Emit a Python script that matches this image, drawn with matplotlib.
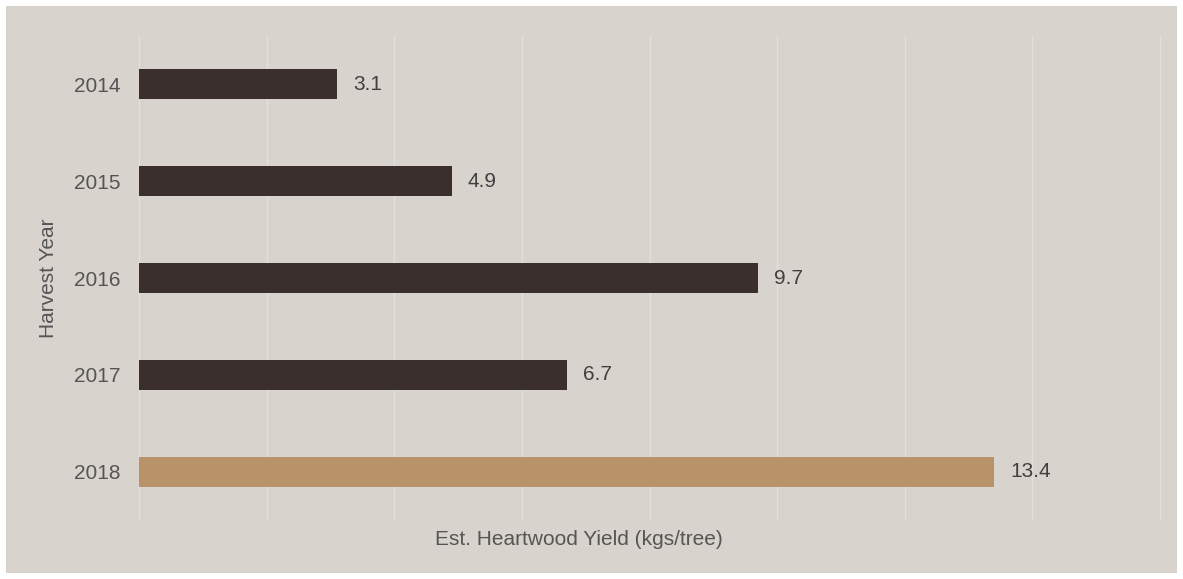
import matplotlib.pyplot as plt
from matplotlib.patches import Rectangle

years = ["2014", "2015", "2016", "2017", "2018"]
yields = [3.1, 4.9, 9.7, 6.7, 13.4]
bar_colors = ["#3a2f2d", "#3a2f2d", "#3a2f2d", "#3a2f2d", "#b89268"]

plt.rcParams["font.family"] = ["Liberation Sans", "DejaVu Sans"]

fig = plt.figure(figsize=(11.83, 5.79), dpi=100, facecolor="white")
# grey panel inside a thin white frame
fig.patches.append(Rectangle((6 / 1183, 6 / 579), 1171 / 1183, 567 / 579,
                             transform=fig.transFigure, facecolor="#d8d3cd",
                             edgecolor="none", zorder=-10))

ax = fig.add_axes([139 / 1183, 59 / 579, 1021 / 1183, 484 / 579])
ax.set_facecolor("none")

pos = list(range(len(years)))
ax.barh(pos, yields, height=0.31, color=bar_colors, zorder=2)

for p, v in zip(pos, yields):
    ax.annotate(f"{v}", (v, p), xytext=(11.5, 0), textcoords="offset points",
                va="center", ha="left", fontsize=15, color="#404040")

ax.set_xlim(0, 16)
ax.set_ylim(len(years) - 0.5, -0.5)
ax.set_xticks(range(0, 17, 2))
ax.set_xticklabels([])
ax.tick_params(axis="x", length=0)
ax.set_yticks(pos)
ax.set_yticklabels(years, fontsize=15, color="#555555")
ax.tick_params(axis="y", length=0, pad=13.5)
ax.grid(axis="x", color="#e3e0dc", linewidth=1, zorder=1)
for gl in ax.get_xgridlines():
    gl.set_clip_on(False)
for s in ax.spines.values():
    s.set_visible(False)

# x title sits nearer the figure centre than the axes centre
ax.set_xlabel("Est. Heartwood Yield (kgs/tree)", fontsize=15, color="#555555",
              labelpad=4, x=0.4305)
ax.set_ylabel("Harvest Year", fontsize=15, color="#555555", labelpad=11)

fig.savefig("out.png", dpi=100, facecolor="white")
